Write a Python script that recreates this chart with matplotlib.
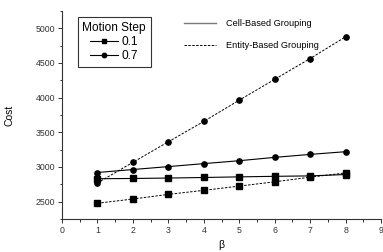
import matplotlib
matplotlib.use("Agg")
import matplotlib.pyplot as plt
from matplotlib.lines import Line2D
from matplotlib.ticker import MultipleLocator

plt.rcParams["font.family"] = ["Liberation Sans", "DejaVu Sans"]

beta = [1, 2, 3, 4, 5, 6, 7, 8]

# cell-based grouping (solid)
cell_01 = [2830, 2834, 2840, 2848, 2857, 2865, 2871, 2891]
cell_07 = [2920, 2963, 3005, 3048, 3090, 3138, 3181, 3220]
# entity-based grouping (dashed)
ent_01 = [2477, 2538, 2605, 2663, 2724, 2786, 2853, 2914]
ent_07 = [2770, 3067, 3363, 3657, 3963, 4263, 4563, 4876]

fig = plt.figure(figsize=(3.83, 2.52), dpi=100)
ax = fig.add_axes([0.162, 0.131, 0.833, 0.826])

ax.plot(beta, cell_01, color="k", lw=0.8, marker="s", ms=3.8)
ax.plot(beta, cell_07, color="k", lw=0.8, marker="o", ms=3.8)
ax.plot(beta, ent_01, color="k", lw=0.7, ls=(0, (2.5, 1.5)), marker="s", ms=3.8)
ax.plot(beta, ent_07, color="k", lw=0.7, ls=(0, (2.5, 1.5)), marker="o", ms=3.8)

ax.set_xlim(0, 9)
ax.set_ylim(2250, 5250)
ax.xaxis.set_major_locator(MultipleLocator(1))
ax.xaxis.set_minor_locator(MultipleLocator(0.5))
ax.yaxis.set_major_locator(MultipleLocator(500))
ax.yaxis.set_minor_locator(MultipleLocator(250))
ax.tick_params(which="major", direction="out", length=3, width=0.7, labelsize=6.3, pad=2, colors="#333333")
ax.tick_params(which="minor", direction="out", length=1.8, width=0.7, colors="#333333")
ax.spines["top"].set_visible(False)
ax.spines["right"].set_visible(False)
for s in ("left", "bottom"):
    ax.spines[s].set_linewidth(0.8)
    ax.spines[s].set_color("#333333")

ax.set_xlabel("β", fontsize=7.5, labelpad=4)
ax.set_ylabel("Cost", fontsize=7.5, labelpad=15)

h1 = [Line2D([], [], color="k", lw=0.8, marker="s", ms=3.2),
      Line2D([], [], color="k", lw=0.8, marker="o", ms=3.2)]
leg1 = ax.legend(h1, ["0.1", "0.7"], title="Motion Step", loc="upper left",
                 bbox_to_anchor=(0.03, 1.0), fontsize=8.6, title_fontsize=8.6,
                 frameon=True, fancybox=False, edgecolor="k", handlelength=2.3,
                 handletextpad=0.3, borderpad=0.4, labelspacing=0.2)
leg1.get_frame().set_linewidth(0.8)
ax.add_artist(leg1)

h2 = [Line2D([], [], color="#777777", lw=1.0),
      Line2D([], [], color="k", lw=0.7, ls=(0, (2.5, 1.5)))]
ax.legend(h2, ["Cell-Based Grouping", "Entity-Based Grouping"], loc="upper left",
          bbox_to_anchor=(0.355, 1.0), fontsize=6.6, frameon=False,
          handlelength=3.5, handletextpad=1.1, labelspacing=1.4)

fig.savefig("out.png", dpi=100)
